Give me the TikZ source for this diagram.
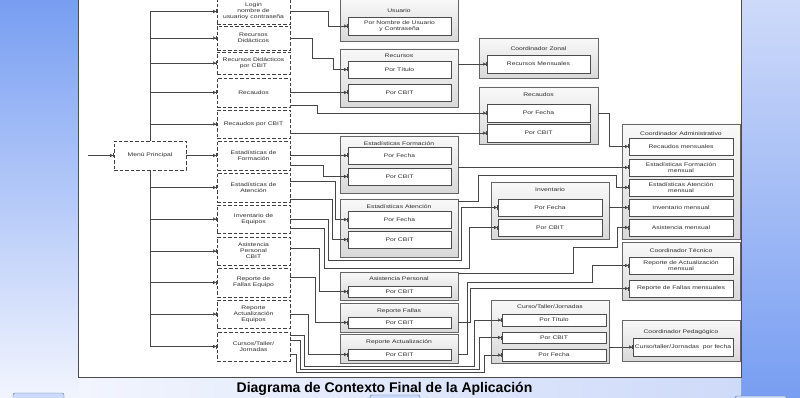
\documentclass[tikz,border=0pt]{standalone}
\usepackage{fontspec}
\setmainfont{Liberation Sans}
\newfontfamily\dgfont{Liberation Sans}[FakeStretch=1.3]
\newcommand\dgtext{\dgfont\fontsize{5.2}{6}\selectfont}
\usetikzlibrary{arrows.meta}
\definecolor{bgblue}{RGB}{120,158,242}
\definecolor{bgpale}{RGB}{242,245,254}
\definecolor{bglight}{RGB}{206,218,249}
\definecolor{linegray}{RGB}{70,70,70}
\definecolor{txtgray}{RGB}{45,45,45}

\begin{document}
\begin{tikzpicture}[x=1pt,y=-1pt,
  menubox/.style={draw=black!75, dash pattern=on 3.5pt off 2pt, line width=0.6pt, fill=white,
    minimum width=73pt, align=center, inner sep=0pt, text=txtgray, font=\dgtext},
  ctbox/.style={draw=black!60, line width=0.5pt, top color=gray!5, bottom color=gray!30,
    minimum width=118pt, inner sep=0pt},
  subbox/.style={draw=black!70, line width=0.6pt, fill=white, minimum width=104pt,
    align=center, inner sep=0pt, text=txtgray, font=\dgtext},
  cttitle/.style={inner sep=0pt, text=txtgray, font=\dgtext},
  flow/.style={draw=linegray, line width=0.55pt,
    -{Triangle[open,length=3pt,width=3.2pt]Bar[width=4pt]}},
  flowfill/.style={flow, -{Triangle[length=3pt,width=3.2pt]Bar[width=4pt]}}]
  \useasboundingbox (0,0) rectangle (800,398);
  % slide background
  \shade[top color=bgblue, bottom color=bgpale] (0,0) rectangle (79,398);
  \shade[top color=bglight, bottom color=bgblue] (741,0) rectangle (800,398);
  \shade[left color=bgpale, right color=bglight] (79,377) rectangle (741,398);
  \draw[bgblue!70!black, fill=bglight, rounded corners=2pt] (13,393) rectangle (64,404);
  \draw[bgblue!70!black, fill=bglight, rounded corners=2pt] (370,395) rectangle (420,404);
  \draw[bgblue!70!black, fill=bglight, rounded corners=2pt] (735,396) rectangle (787,404);
  \draw[black!70, line width=0.6pt, fill=white] (78,-2) rectangle (741,377);
  \node[font=\bfseries\fontsize{14}{16}\selectfont] (title) at (384.5,389)
    {Diagrama de Contexto Final de la Aplicación};

  % menu column
  \coordinate (in) at (88,155.5);
  \node[menubox, minimum width=72pt, minimum height=29pt] (mMenu) at (150,155.5) {Menú Principal};
  \node[menubox, minimum height=25pt] (mLogin) at (253.5,11.5) {Login\\nombre de\\usuarioy contraseña};
  \node[menubox, minimum height=24pt] (mRecDid) at (253.5,38) {Recursos\\Didácticos};
  \node[menubox, minimum height=22pt] (mRecDidCBIT) at (253.5,63) {Recursos Didácticos\\por CBIT};
  \node[menubox, minimum height=29pt] (mRecaudos) at (253.5,92.5) {Recaudos};
  \node[menubox, minimum height=28pt] (mRecCBIT) at (253.5,124) {Recaudos por CBIT};
  \node[menubox, minimum height=29pt] (mEstForm) at (253.5,155.5) {Estadísticas de\\Formación};
  \node[menubox, minimum height=29pt] (mEstAt) at (253.5,187.5) {Estadísticas de\\Atención};
  \node[menubox, minimum height=28pt] (mInv) at (253.5,219) {Inventario de\\Equipos};
  \node[menubox, minimum height=28pt] (mAsis) at (253.5,251) {Asistencia\\Personal\\CBIT};
  \node[menubox, minimum height=29pt] (mFallas) at (253.5,282.5) {Reporte de\\Fallas Equipo};
  \node[menubox, minimum height=28pt] (mActual) at (253.5,314) {Reporte\\Actualización\\Equipos};
  \node[menubox, minimum height=29pt] (mCursos) at (253.5,346.5) {Cursos/Taller/\\Jornadas};

  % middle column
  \node[ctbox, minimum height=42pt] (cUsuario) at (399,20) {};
  \node[cttitle] (tUsuario) at (399,11) {Usuario};
  \node[subbox, minimum width=103pt, minimum height=18pt] (uNombre) at (399.5,26) {Por Nombre de Usuario\\y Contraseña};
  \node[ctbox, minimum height=58pt] (cRecursos) at (399,78) {};
  \node[cttitle] (tRecursos) at (399,56) {Recursos};
  \node[subbox, minimum width=103pt, minimum height=17pt] (rTitulo) at (399.5,69.5) {Por Título};
  \node[subbox, minimum width=103pt, minimum height=17pt] (rCBIT) at (399.5,92.5) {Por CBIT};
  \node[ctbox, minimum height=57pt] (cEstForm) at (399,164.5) {};
  \node[cttitle] (tEstForm) at (399,143.5) {Estadísticas Formación};
  \node[subbox, minimum width=103pt, minimum height=17pt] (fFecha) at (399.5,155.5) {Por Fecha};
  \node[subbox, minimum width=103pt, minimum height=17pt] (fCBIT) at (399.5,176.5) {Por CBIT};
  \node[ctbox, minimum height=58pt] (cEstAt) at (399,228) {};
  \node[cttitle] (tEstAt) at (399,207) {Estadísticas Atención};
  \node[subbox, minimum width=103pt, minimum height=17pt] (aFecha) at (399.5,219.5) {Por Fecha};
  \node[subbox, minimum width=103pt, minimum height=17pt] (aCBIT) at (399.5,239.5) {Por CBIT};
  \node[ctbox, minimum height=28pt] (cAsis) at (399,286) {};
  \node[cttitle] (tAsis) at (399,279) {Asistencia Personal};
  \node[subbox, minimum width=103pt, minimum height=11pt] (sCBIT) at (399.5,291.5) {Por CBIT};
  \node[ctbox, minimum height=29pt] (cFallas) at (399,317.5) {};
  \node[cttitle] (tFallas) at (399,311) {Reporte Fallas};
  \node[subbox, minimum width=103pt, minimum height=11pt] (fallCBIT) at (399.5,322.5) {Por CBIT};
  \node[ctbox, minimum height=29pt] (cActual) at (399,348.5) {};
  \node[cttitle] (tActual) at (399,342.5) {Reporte Actualización};
  \node[subbox, minimum width=103pt, minimum height=11pt] (actCBIT) at (399.5,354.5) {Por CBIT};

  % second column
  \node[ctbox, minimum width=119pt, minimum height=40pt] (cZonal) at (538.5,58) {};
  \node[cttitle] (tZonal) at (538.5,49) {Coordinador Zonal};
  \node[subbox, minimum width=103pt, minimum height=18pt] (zMensual) at (538.5,64) {Recursos Mensuales};
  \node[ctbox, minimum width=119pt, minimum height=57pt] (cRecaudos) at (538.5,115.5) {};
  \node[cttitle] (tRecaudos) at (538.5,95) {Recaudos};
  \node[subbox, minimum width=103pt, minimum height=18pt] (cfFecha) at (538.5,113) {Por Fecha};
  \node[subbox, minimum width=103pt, minimum height=18pt] (cfCBIT) at (538.5,133) {Por CBIT};
  \node[ctbox, minimum height=57pt] (cInv) at (550,210.5) {};
  \node[cttitle] (tInv) at (550,190) {Inventario};
  \node[subbox, minimum height=17pt] (iFecha) at (550,207.5) {Por Fecha};
  \node[subbox, minimum height=17pt] (iCBIT) at (550,227.5) {Por CBIT};
  \node[ctbox, minimum height=63pt] (cCurso) at (550,331.5) {};
  \node[cttitle] (tCurso) at (550,307) {Curso/Taller/Jornadas};
  \node[subbox, minimum height=12pt] (cuTitulo) at (554,320) {Por Título};
  \node[subbox, minimum height=11pt] (cuCBIT) at (554,337.5) {Por CBIT};
  \node[subbox, minimum height=12pt] (cuFecha) at (554,355) {Por Fecha};

  % coordinators
  \node[ctbox, minimum height=115pt] (cAdmin) at (681,181.5) {};
  \node[cttitle] (tAdmin) at (681,133.5) {Coordinador Administrativo};
  \node[subbox, minimum height=17pt] (adRec) at (681,146.5) {Recaudos mensuales};
  \node[subbox, minimum height=17pt] (adEF) at (681,167.5) {Estadísticas Formación\\mensual};
  \node[subbox, minimum height=17pt] (adEA) at (681,187.5) {Estadísticas Atención\\mensual};
  \node[subbox, minimum height=17pt] (adInv) at (681,207.5) {Inventario mensual};
  \node[subbox, minimum height=17pt] (adAsis) at (681,227.5) {Asistencia mensual};
  \node[ctbox, minimum height=58pt] (cTec) at (681,271) {};
  \node[cttitle] (tTec) at (681,251) {Coordinador Técnico};
  \node[subbox, minimum height=17pt] (teAct) at (681,265.5) {Reporte de Actualización\\mensual};
  \node[subbox, minimum height=17pt] (teFallas) at (681,288.5) {Reporte de Fallas mensuales};
  \node[ctbox, minimum height=41pt] (cPed) at (681,340.5) {};
  \node[cttitle] (tPed) at (681,332) {Coordinador Pedagógico};
  \node[subbox, minimum width=100pt, minimum height=18pt] (peCurso) at (683,347) {Curso/taller/Jornadas\ \ por fecha};

  % menu tree
  \draw[flow] (in) -- (mMenu);
  \draw[flow] (mMenu) -- (mEstForm);
  \draw[flowfill] (mMenu.north) |- (mLogin.west);
  \draw[flow] (mMenu.north) |- (mRecDid.west);
  \draw[flow] (mMenu.north) |- (mRecDidCBIT.west);
  \draw[flow] (mMenu.north) |- (mRecaudos.west);
  \draw[flow] (mMenu.north) |- (mRecCBIT.west);
  \draw[flow] (mMenu.south) |- (mEstAt.west);
  \draw[flow] (mMenu.south) |- (mInv.west);
  \draw[flow] (mMenu.south) |- (mAsis.west);
  \draw[flow] (mMenu.south) |- (mFallas.west);
  \draw[flow] (mMenu.south) |- (mActual.west);
  \draw[flowfill] (mMenu.south) |- (mCursos.west);

  % menu options to queries
  \draw[flow] (mLogin.east) -- ++(38,0) |- (uNombre.west);
  \draw[flow] (mRecDid.east) -- ++(22,0) -- ++(0,20) -- ++(21,0) |- (rTitulo.west);
  \draw[flow] (mRecaudos.east) -- (rCBIT.west);
  \draw[flow] ([yshift=-13pt]mRecaudos.east) -- ++(27,0) |- (cfFecha.west);
  \draw[flow] (mRecCBIT.east |- cfCBIT.west) -- (cfCBIT.west);
  \draw[flow] (mEstForm.east) -- (fFecha.west);
  \draw[flow] ([yshift=-10pt]mEstForm.east) -- ++(33,0) |- (fCBIT.west);
  \draw[flow] ([yshift=6pt]mEstAt.east) -- ++(45,0) |- (aFecha.west);
  \draw[flow] ([yshift=-11.5pt]mEstAt.east) -- ++(42,0) |- (aCBIT.west);
  \draw[flow] (mInv.east) -- ++(38,0) -- ++(0,41) -| ([xshift=-36pt]iFecha.west) -- (iFecha.west);
  \draw[flow] ([yshift=-9pt]mInv.east) -- ++(34,0) -- ++(0,40) -| ([xshift=-28pt]iCBIT.west) -- (iCBIT.west);
  \draw[flow] ([yshift=3pt]mAsis.east) -- ++(29,0) |- (sCBIT.west);
  \draw[flow] ([yshift=5.5pt]mFallas.east) -- ++(25,0) |- (fallCBIT.west);
  \draw[flow] (mActual.east) -- ++(18,0) |- (actCBIT.west);
  \draw[flow] ([yshift=11.5pt]mCursos.east) -- ++(14,0) -- ++(0,31) -| ([xshift=-27pt]cuTitulo.west) -- (cuTitulo.west);
  \draw[flow] ([yshift=6.5pt]mCursos.east) -- ++(10,0) -- ++(0,29) -| ([xshift=-22pt]cuCBIT.west) -- (cuCBIT.west);
  \draw[flow] ([yshift=-7.5pt]mCursos.east) -- ++(6,0) -- ++(0,18) -| ([xshift=-17pt]cuFecha.west) -- (cuFecha.west);

  % queries to coordinators
  \draw[flow] (cRecursos.east |- zMensual.west) -- (zMensual.west);
  \draw[flow] (cRecaudos.east |- cfFecha.east) -- ++(11,0) |- (adRec.west);
  \draw[flow] (cEstForm.east |- adEF.west) -- (adEF.west);
  \draw[flow] ([yshift=-3pt]cEstAt.north east) -- ++(20,0) -- ++(0,-26) -| ([xshift=-12pt]adEA.west) -- (adEA.west);
  \draw[flow] (cInv.east |- adInv.west) -- (adInv.west);
  \draw[flow] ([yshift=-2pt]cAsis.north east) -- ++(115,0) -- ++(0,-26) -| ([xshift=-11pt]adAsis.west) -- (adAsis.west);
  \draw[flow] (cFallas.east |- fallCBIT.east) -- ++(12,0) |- (teFallas.west);
  \draw[flow] (cActual.east |- actCBIT.east) -- ++(9,0) -- ++(0,-72.5) -| ([xshift=-36pt]teAct.west) -- (teAct.west);
  \draw[flow] (cCurso.east |- peCurso.west) -- (peCurso.west);
\end{tikzpicture}
\end{document}
